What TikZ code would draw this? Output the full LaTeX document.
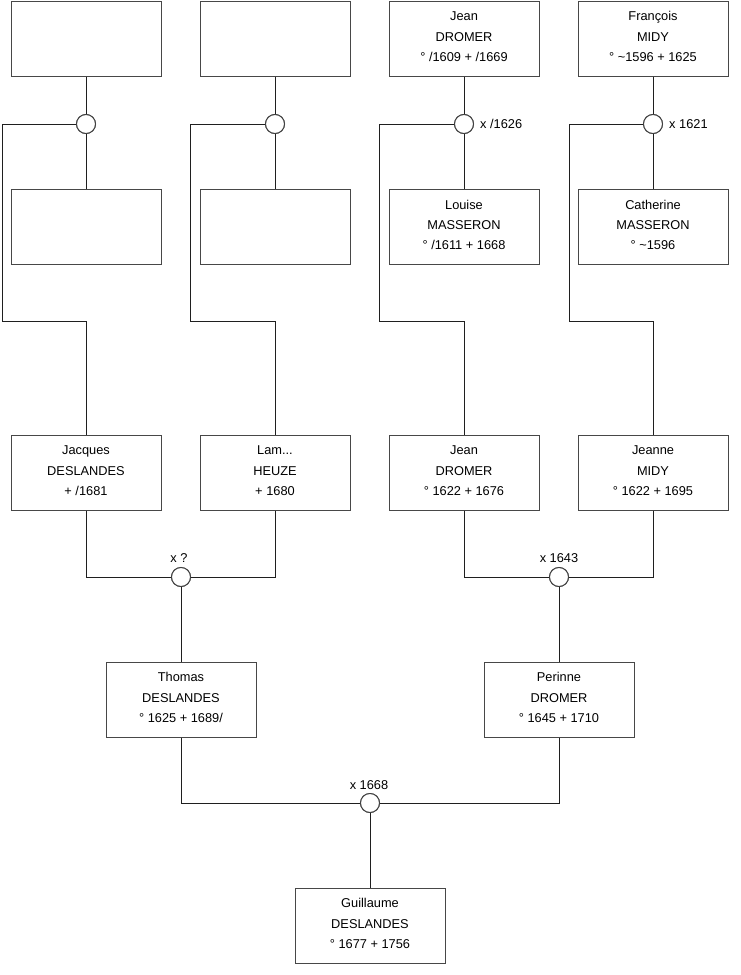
\documentclass[tikz,border=0pt]{standalone}
\usepackage{fontspec}
\setmainfont{Liberation Sans}
\tikzset{
  pbox/.style={rectangle, draw=black!72, line width=1pt, fill=white, minimum width=150pt, minimum height=75pt, inner sep=0pt},
  ptext/.style={align=center, inner sep=0pt, font=\fontsize{12.8}{20.3}\selectfont, yshift=-2.6pt},
  wed/.style={circle, draw=black!75, line width=1pt, fill=white, minimum size=19pt, inner sep=0pt},
  link/.style={draw=black!88, line width=1pt},
  lbl/.style={inner sep=0pt, font=\fontsize{12.8}{15}\selectfont}
}
\newcommand{\person}[4]{%
  \node[pbox] (#1) at (#2,#3) {};
  \node[ptext] (#1t) at (#1.center) {\rule{0pt}{11pt}#4\rule[-11pt]{0pt}{11pt}};}
\newcommand{\emptyperson}[3]{\node[pbox] (#1) at (#2,#3) {};}
\begin{document}
\begin{tikzpicture}[x=1pt,y=-1pt]
\useasboundingbox (0,0) rectangle (740,975);
% row 1
\emptyperson{a1}{86}{38.5}
\emptyperson{a2}{275}{38.5}
\person{a3}{464}{38.5}{Jean\\DROMER\\° /1609 + /1669}
\person{a4}{653}{38.5}{François\\MIDY\\° \textasciitilde1596 + 1625}
% row 2
\emptyperson{b1}{86}{227}
\emptyperson{b2}{275}{227}
\person{b3}{464}{227}{Louise\\MASSERON\\° /1611 + 1668}
\person{b4}{653}{227}{Catherine\\MASSERON\\° \textasciitilde1596}
% row 3
\person{c1}{86}{472.5}{Jacques\\DESLANDES\\+ /1681}
\person{c2}{275}{472.5}{Lam...\\HEUZE\\+ 1680}
\person{c3}{464}{472.5}{Jean\\DROMER\\° 1622 + 1676}
\person{c4}{653}{472.5}{Jeanne\\MIDY\\° 1622 + 1695}
% row 4
\person{d1}{181}{699.5}{Thomas\\DESLANDES\\° 1625 + 1689/}
\person{d2}{559}{699.5}{Perinne\\DROMER\\° 1645 + 1710}
% row 5
\person{e1}{370}{925.5}{Guillaume\\DESLANDES\\° 1677 + 1756}
% marriages
\node[wed] (m1) at (86,124) {};
\node[wed] (m2) at (275,124) {};
\node[wed] (m3) at (464,124) {};
\node[wed] (m4) at (653,124) {};
\node[wed] (n1) at (181,577) {};
\node[wed] (n2) at (559,577) {};
\node[wed] (o1) at (370,803) {};
% corner coordinates
\coordinate (k1) at (2,321);
\coordinate (k2) at (190,321);
\coordinate (k3) at (379,321);
\coordinate (k4) at (569,321);
% connectors top
\foreach \i in {1,2,3,4}{
  \draw[link] (a\i.south) -- (m\i.north);
  \draw[link] (m\i.south) -- (b\i.north);
  \draw[link] (m\i.west) -| (k\i) -| (c\i.north);
}
\draw[link] (c1.south) |- (n1.west);
\draw[link] (c2.south) |- (n1.east);
\draw[link] (n1.south) -- (d1.north);
\draw[link] (c3.south) |- (n2.west);
\draw[link] (c4.south) |- (n2.east);
\draw[link] (n2.south) -- (d2.north);
\draw[link] (d1.south) |- (o1.west);
\draw[link] (d2.south) |- (o1.east);
\draw[link] (o1.south) -- (e1.north);
% redraw circles on top
\foreach \w in {m1,m2,m3,m4,n1,n2,o1}{\node[wed] at (\w) {};}
% labels
\node[lbl, anchor=base west] (l3) at (480,128.6) {x /1626};
\node[lbl, anchor=base west] (l4) at (669,128.6) {x 1621};
\node[lbl, anchor=base] (ln1) at (179,562.6) {x ?};
\node[lbl, anchor=base] (ln2) at (559,562.6) {x 1643};
\node[lbl, anchor=base] (lo1) at (369,789.6) {x 1668};
\end{tikzpicture}
\end{document}
